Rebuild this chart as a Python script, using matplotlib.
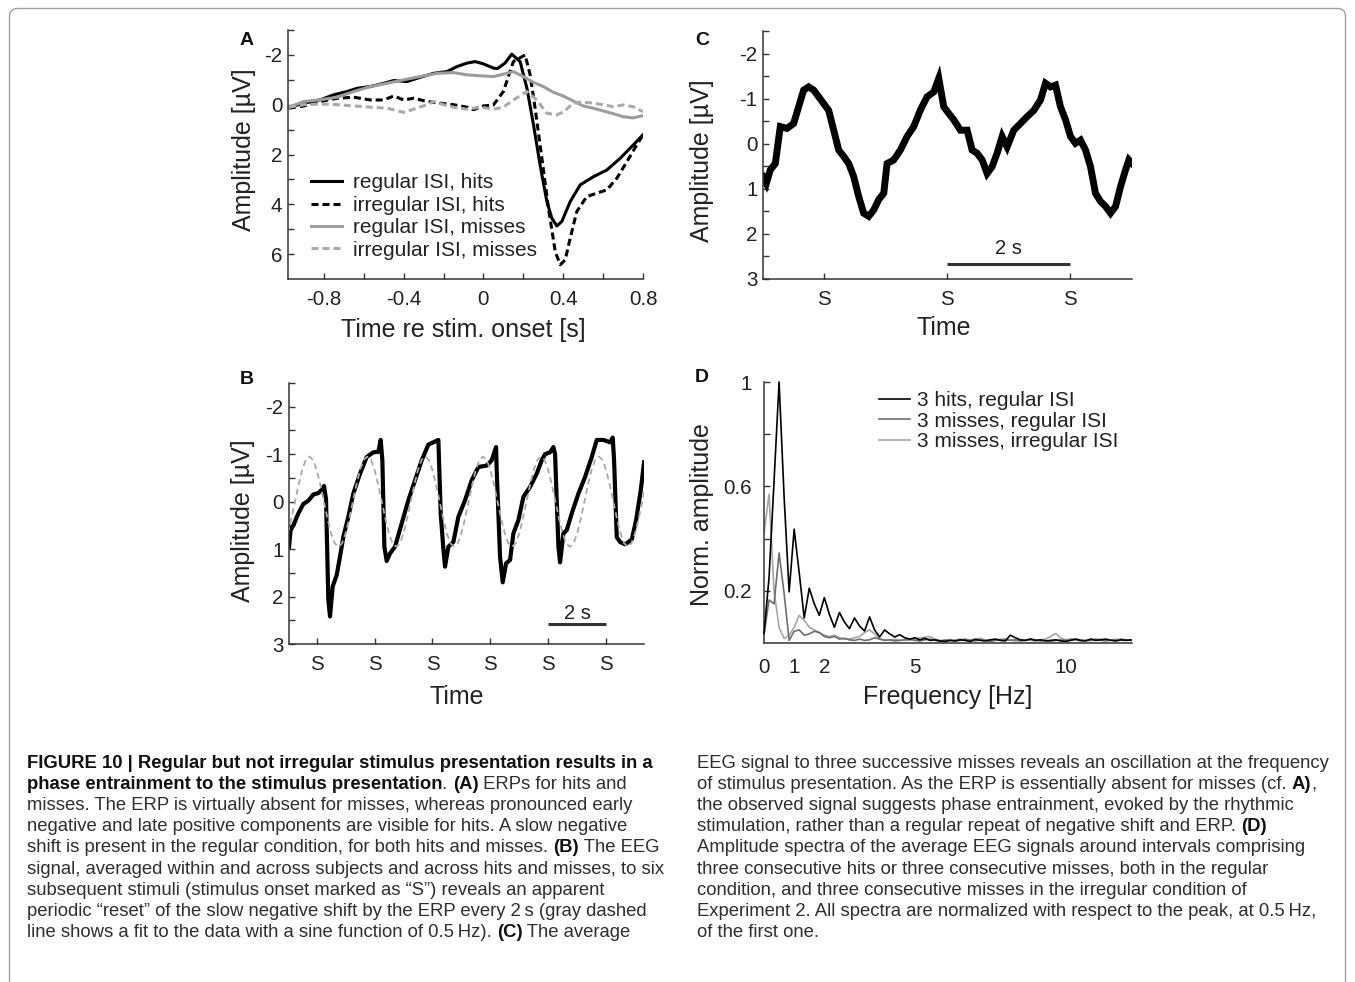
import numpy as np
import matplotlib
matplotlib.use("Agg")
import matplotlib.pyplot as plt
from matplotlib.patches import FancyBboxPatch
from matplotlib.transforms import IdentityTransform

# ---------------------------------------------------------------- data
# Panel A: ERPs (time in s, amplitude in uV; negative up)
a_reg_hits_t = [-0.975, -0.9, -0.817, -0.75, -0.683, -0.633, -0.567, -0.5, -0.45, -0.383,
                -0.317, -0.25, -0.183, -0.133, -0.083, -0.042, 0.0, 0.05, 0.07, 0.108,
                0.142, 0.184, 0.218, 0.251, 0.284, 0.318, 0.343, 0.368, 0.393, 0.435,
                0.485, 0.552, 0.619, 0.686, 0.752, 0.8]
a_reg_hits_v = [0.1, -0.06, -0.2, -0.4, -0.53, -0.66, -0.73, -0.86, -0.97, -0.93,
                -1.1, -1.26, -1.33, -1.53, -1.67, -1.73, -1.64, -1.47, -1.45, -1.67,
                -2.03, -1.73, -0.66, 0.81, 2.42, 3.89, 4.56, 4.87, 4.69, 3.89,
                3.22, 2.89, 2.62, 2.15, 1.61, 1.21]
a_irr_hits_t = [-0.975, -0.9, -0.817, -0.733, -0.65, -0.567, -0.5, -0.45, -0.4, -0.35,
                -0.283, -0.217, -0.15, -0.083, -0.05, 0.0, 0.05, 0.1, 0.15, 0.209,
                0.234, 0.259, 0.293, 0.326, 0.36, 0.385, 0.41, 0.435, 0.468, 0.518,
                0.569, 0.619, 0.669, 0.719, 0.769, 0.8]
a_irr_hits_v = [0.14, 0.05, -0.13, -0.26, -0.3, -0.19, -0.19, -0.35, -0.19, -0.26,
                -0.13, -0.06, 0.0, 0.1, 0.2, 0.05, 0.01, -0.53, -1.73, -2.0,
                -1.2, 0.14, 2.15, 4.16, 5.9, 6.43, 6.23, 5.36, 4.29, 3.69,
                3.55, 3.42, 2.95, 2.29, 1.61, 1.21]
a_reg_miss_t = [-0.975, -0.9, -0.817, -0.733, -0.65, -0.567, -0.483, -0.4, -0.317, -0.233,
                -0.15, -0.083, -0.017, 0.05, 0.117, 0.15, 0.2, 0.25, 0.3, 0.35,
                0.4, 0.45, 0.5, 0.55, 0.6, 0.65, 0.7, 0.75, 0.8]
a_reg_miss_v = [0.1, -0.13, -0.2, -0.3, -0.53, -0.73, -0.86, -1.0, -1.13, -1.26,
                -1.29, -1.2, -1.16, -1.13, -1.26, -1.33, -1.13, -0.9, -0.73, -0.5,
                -0.35, -0.15, 0.05, 0.14, 0.25, 0.36, 0.48, 0.53, 0.44]
a_irr_miss_t = [-0.975, -0.9, -0.817, -0.733, -0.65, -0.567, -0.483, -0.4, -0.35, -0.283,
                -0.25, -0.2, -0.15, -0.083, -0.017, 0.05, 0.1, 0.15, 0.217, 0.267,
                0.317, 0.367, 0.4, 0.45, 0.483, 0.533, 0.6, 0.65, 0.7, 0.75,
                0.8]
a_irr_miss_v = [0.1, 0.0, -0.03, 0.0, 0.05, 0.1, 0.14, 0.31, 0.18, 0.0,
                -0.13, 0.0, 0.1, 0.18, 0.1, 0.18, 0.1, -0.19, -0.53, -0.19,
                0.34, 0.41, 0.3, -0.06, -0.1, -0.08, 0.0, 0.08, 0.01, 0.08,
                0.28]
a_labels = ["regular ISI, hits", "irregular ISI, hits",
            "regular ISI, misses", "irregular ISI, misses"]
a_xticks = [-0.8, -0.4, 0, 0.4, 0.8]
a_xticklabels = ["-0.8", "-0.4", "0", "0.4", "0.8"]
a_yticks = [-2, 0, 2, 4, 6]
a_yticklabels = ["-2", "0", "2", "4", "6"]

# Panel B: EEG to six stimuli (time in s from first stimulus)
b_t = [-0.956, -0.899, -0.806, -0.634, -0.461, -0.288, -0.115, 0.058, 0.173, 0.253,
       0.323, 0.403, 0.461, 0.553, 0.691, 0.806, 0.922, 1.094, 1.267, 1.498,
       1.728, 1.959, 2.131, 2.212, 2.270, 2.339, 2.419, 2.535, 2.707, 2.938,
       3.168, 3.399, 3.629, 3.859, 4.032, 4.205, 4.286, 4.378, 4.435, 4.551,
       4.724, 4.896, 5.127, 5.357, 5.588, 5.876, 6.048, 6.198, 6.221, 6.336,
       6.429, 6.544, 6.682, 6.797, 6.970, 7.143, 7.373, 7.604, 7.776, 7.892,
       8.065, 8.18, 8.237, 8.353, 8.41, 8.525, 8.641, 8.813, 9.044, 9.274,
       9.505, 9.677, 9.908, 10.138, 10.23, 10.276, 10.369, 10.484, 10.657, 10.887,
       11.037, 11.198, 11.313]
b_v = [0.95, 0.6, 0.5, 0.25, 0.05, -0.02, -0.15, -0.18, -0.25, -0.33,
       -0.05, 2.07, 2.42, 1.79, 1.55, 1.16, 0.74, 0.32, -0.17, -0.59,
       -0.94, -1.04, -1.05, -1.3, -0.87, 0.95, 1.25, 1.09, 0.95, 0.46,
       -0.03, -0.45, -0.87, -1.2, -1.25, -1.3, 0.25, 1.0, 1.37, 0.95,
       0.85, 0.32, -0.03, -0.45, -0.73, -0.76, -0.87, -1.15, -0.66, 1.16,
       1.7, 1.3, 1.23, 0.67, 0.39, -0.1, -0.31, -0.59, -0.87, -1.0,
       -1.04, -1.15, -1.0, 0.95, 1.28, 0.67, 0.6, 0.25, -0.17, -0.52,
       -0.94, -1.3, -1.3, -1.25, -1.35, -0.87, 0.75, 0.85, 0.9, 0.8,
       0.39, -0.24, -0.83]
b_fit_v = [0.67, 0.36, 0.0, -0.36, -0.67, -0.88,
           -0.95, -0.88, -0.67, -0.36, 0.0, 0.36, 0.67, 0.88, 0.95, 0.88, 0.67, 0.36, 0.0, -0.36, -0.67, -0.88,
           -0.95, -0.88, -0.67, -0.36, 0.0, 0.36, 0.67, 0.88, 0.95, 0.88, 0.67, 0.36, 0.0, -0.36, -0.67, -0.88,
           -0.95, -0.88, -0.67, -0.36, 0.0, 0.36, 0.67, 0.88, 0.95, 0.88, 0.67, 0.36, 0.0, -0.36, -0.67, -0.88,
           -0.95, -0.88, -0.67, -0.36, 0.0, 0.36, 0.67, 0.88, 0.95, 0.88, 0.67, 0.36, 0.0, -0.36, -0.67, -0.88,
           -0.95, -0.88, -0.67, -0.36, 0.0, 0.36, 0.67, 0.88, 0.95, 0.88, 0.67, 0.36, 0.0, -0.36, -0.67, -0.88,
           -0.95, -0.88, -0.67, -0.36, 0.0, 0.36, 0.67, 0.88, 0.95, 0.88, 0.67, 0.36, 0.0, -0.36, -0.67]
b_fit_t = np.arange(len(b_fit_v)) * 0.125 - 1.0
b_stimuli = [0, 2, 4, 6, 8, 10]

# Panel C: EEG to three successive misses
c_t = [-0.986, -0.932, -0.867, -0.786, -0.705, -0.596, -0.488, -0.407, -0.325, -0.244,
       -0.163, -0.081, 0.0, 0.081, 0.163, 0.244, 0.325, 0.407, 0.488, 0.569,
       0.650, 0.732, 0.813, 0.894, 0.976, 1.030, 1.138, 1.247, 1.355, 1.463,
       1.572, 1.680, 1.789, 1.870, 1.951, 2.033, 2.114, 2.222, 2.331, 2.412,
       2.493, 2.575, 2.656, 2.737, 2.818, 2.9, 2.981, 3.089, 3.198, 3.306,
       3.415, 3.523, 3.604, 3.686, 3.767, 3.848, 3.930, 4.011, 4.092, 4.173,
       4.255, 4.336, 4.417, 4.499, 4.580, 4.661, 4.743, 4.824, 4.905, 4.959,
       5.014]
c_v = [0.73, 0.88, 0.58, 0.44, -0.38, -0.34, -0.45, -0.82, -1.19, -1.26,
       -1.19, -1.04, -0.89, -0.74, -0.3, 0.14, 0.28, 0.44, 0.73, 1.17,
       1.54, 1.61, 1.47, 1.24, 1.1, 0.44, 0.36, 0.14, -0.16, -0.38,
       -0.75, -1.04, -1.15, -1.45, -0.82, -0.67, -0.53, -0.3, -0.3, 0.14,
       0.21, 0.36, 0.66, 0.51, 0.21, -0.16, 0.07, -0.3, -0.45, -0.6,
       -0.74, -0.97, -1.34, -1.26, -1.3, -0.82, -0.53, -0.16, -0.01, -0.08,
       0.14, 0.51, 1.1, 1.28, 1.39, 1.54, 1.39, 0.95, 0.58, 0.36,
       0.44]
c_stimuli = [0, 2, 4]
bc_yticks = [-2, -1, 0, 1, 2, 3]
bc_yticklabels = ["-2", "-1", "0", "1", "2", "3"]

# Panel D: normalized amplitude spectra, bins of 1/6 Hz
d_hits_reg = [0.036, 0.25, 0.62, 1.0, 0.56, 0.196, 0.436, 0.27, 0.096, 0.21,
              0.15, 0.106, 0.174, 0.11, 0.06, 0.117, 0.08, 0.055, 0.096, 0.065,
              0.046, 0.1, 0.05, 0.023, 0.05, 0.035, 0.023, 0.032, 0.02, 0.015,
              0.02, 0.012, 0.018, 0.01, 0.012, 0.008, 0.006, 0.01, 0.008, 0.012,
              0.01, 0.006, 0.014, 0.01, 0.008, 0.012, 0.015, 0.01, 0.008, 0.03,
              0.02, 0.012, 0.01, 0.015, 0.01, 0.012, 0.008, 0.01, 0.012, 0.008,
              0.006, 0.01, 0.015, 0.01, 0.008, 0.015, 0.01, 0.012, 0.015, 0.01,
              0.008, 0.012, 0.01, 0.012]
d_miss_reg = [0.03, 0.165, 0.15, 0.345, 0.19, 0.01, 0.045, 0.05, 0.03, 0.035,
              0.045, 0.04, 0.025, 0.02, 0.025, 0.015, 0.018, 0.012, 0.01, 0.015,
              0.01, 0.012, 0.02, 0.015, 0.01, 0.012, 0.008, 0.01, 0.012, 0.015,
              0.01, 0.008, 0.012, 0.015, 0.01, 0.006, 0.01, 0.012, 0.008, 0.01,
              0.015, 0.01, 0.008, 0.012, 0.01, 0.006, 0.01, 0.012, 0.015, 0.01,
              0.012, 0.008, 0.01, 0.015, 0.012, 0.008, 0.01, 0.006, 0.01, 0.012,
              0.01, 0.015, 0.012, 0.008, 0.01, 0.012, 0.015, 0.01, 0.008, 0.012,
              0.01, 0.015, 0.012, 0.01]
d_miss_irr = [0.42, 0.57, 0.2, 0.06, 0.017, 0.03, 0.06, 0.106, 0.087, 0.06,
              0.05, 0.04, 0.03, 0.025, 0.03, 0.02, 0.015, 0.015, 0.02, 0.025,
              0.04, 0.05, 0.035, 0.015, 0.012, 0.01, 0.015, 0.01, 0.012, 0.01,
              0.015, 0.02, 0.022, 0.025, 0.015, 0.01, 0.012, 0.008, 0.012, 0.015,
              0.01, 0.012, 0.015, 0.018, 0.012, 0.01, 0.012, 0.015, 0.01, 0.012,
              0.008, 0.01, 0.012, 0.01, 0.008, 0.012, 0.015, 0.025, 0.036, 0.02,
              0.012, 0.01, 0.015, 0.012, 0.01, 0.008, 0.012, 0.015, 0.01, 0.012,
              0.015, 0.01, 0.012, 0.01]
d_freq = np.arange(len(d_hits_reg)) / 6.0
d_labels = ["3 hits, regular ISI", "3 misses, regular ISI", "3 misses, irregular ISI"]
d_xticks = [0, 1, 2, 5, 10]
d_yticks = [0.2, 0.4, 0.6, 0.8, 1.0]
d_yticklabels = ["0.2", "", "0.6", "", "1"]

# ---------------------------------------------------------------- figure
W, H = 1355, 982
plt.rcParams["font.family"] = ["Liberation Sans", "DejaVu Sans"]
plt.rcParams["axes.unicode_minus"] = False
TXT = "#222222"
AX = "#333333"
TICK_FS = 14.8

fig = plt.figure(figsize=(W / 100, H / 100), dpi=100)


def rect(x0, y0, x1, y1):
    return [x0 / W, 1 - y1 / H, (x1 - x0) / W, (y1 - y0) / H]


def style(ax, xpad=8, ypad=4):
    for s in ["top", "right"]:
        ax.spines[s].set_visible(False)
    for s in ["left", "bottom"]:
        ax.spines[s].set_linewidth(1.1)
        ax.spines[s].set_color(AX)
    ax.tick_params(which="both", direction="in", length=4, width=1.0, color=AX,
                   labelsize=TICK_FS, labelcolor=TXT)
    ax.tick_params(axis="y", which="both", pad=ypad)
    ax.tick_params(axis="x", which="both", pad=xpad)
    ax.patch.set_alpha(0)


def labels(ax, xl, yl, xc, yc):
    ax.set_xlabel(xl, fontsize=18, color=TXT, va="center")
    ax.set_ylabel(yl, fontsize=18, color=TXT, va="center")
    ax.xaxis.set_label_coords(*xc)
    ax.yaxis.set_label_coords(*yc)


def letter(x, y, s):
    fig.text(x / W, 1 - y / H, s, fontsize=14, fontweight="bold", color="#111111",
             ha="center", va="center")


# ---- Panel A
axA = fig.add_axes(rect(288, 30, 643, 279))
style(axA)
axA.plot(a_reg_hits_t, a_reg_hits_v, color="black", lw=2.2, label=a_labels[0])
axA.plot(a_irr_hits_t, a_irr_hits_v, color="black", lw=2.2, dashes=(2.3, 1.3), label=a_labels[1])
axA.plot(a_reg_miss_t, a_reg_miss_v, color="#9c9c9c", lw=2.2, label=a_labels[2])
axA.plot(a_irr_miss_t, a_irr_miss_v, color="#aaaaaa", lw=2.2, dashes=(2.3, 1.3), label=a_labels[3])
axA.set_xlim(-0.98, 0.8)
axA.set_ylim(7, -3)
axA.set_xticks(a_xticks)
axA.set_xticklabels(a_xticklabels)
axA.set_xticks([-0.6, -0.2, 0.2, 0.6], minor=True)
axA.set_yticks(a_yticks)
axA.set_yticklabels(a_yticklabels)
axA.set_yticks([-3, -1, 1, 3, 5], minor=True)
labels(axA, "Time re stim. onset [s]", "Amplitude [µV]", (0.493, -0.205), (-0.124, 0.52))
legA = axA.legend(loc="upper left", bbox_to_anchor=(311 / W, 1 - 173.5 / H),
                  bbox_transform=fig.transFigure, frameon=False, borderpad=0,
                  borderaxespad=0, handlelength=1.5, handletextpad=0.53,
                  labelspacing=0.16, fontsize=15)
for t in legA.get_texts():
    t.set_color(TXT)
letter(247, 41, "A")

# ---- Panel C
axC = fig.add_axes(rect(763, 31, 1132, 279))
style(axC)
axC.plot(c_t, c_v, color="black", lw=5.0, solid_joinstyle="miter")
axC.set_xlim(-0.986, 5.01)
axC.set_ylim(3, -2.5)
axC.set_xticks(c_stimuli)
axC.set_xticklabels(["S"] * len(c_stimuli))
axC.set_yticks(bc_yticks)
axC.set_yticklabels(bc_yticklabels)
axC.set_yticks([-2.5, -1.5, -0.5, 0.5, 1.5, 2.5], minor=True)
axC.plot([2, 4], [2.67, 2.67], color=AX, lw=2.2, solid_capstyle="butt", clip_on=False)
axC.text(3, 2.33, "2 s", ha="center", va="center", fontsize=14.5, color=TXT)
labels(axC, "Time", "Amplitude [µV]", (0.49, -0.196), (-0.164, 0.477))
letter(702, 41, "C")

# ---- Panel B
axB = fig.add_axes(rect(289, 383, 644, 644))
style(axB)
axB.plot(b_t, b_v, color="black", lw=3.0)
axB.plot(b_fit_t, b_fit_v, color="#a8a8a8", lw=1.3, dashes=(3.3, 2.2), zorder=3)
axB.set_xlim(-0.956, 11.31)
axB.set_ylim(3, -2.5)
axB.set_xticks(b_stimuli)
axB.set_xticklabels(["S"] * len(b_stimuli))
axB.set_yticks(bc_yticks)
axB.set_yticklabels(bc_yticklabels)
axB.set_yticks([-2.5, -1.5, -0.5, 0.5, 1.5, 2.5], minor=True)
axB.plot([8, 10], [2.58, 2.58], color=AX, lw=2.2, solid_capstyle="butt", clip_on=False)
axB.text(9, 2.35, "2 s", ha="center", va="center", fontsize=14.5, color=TXT)
labels(axB, "Time", "Amplitude [µV]", (0.472, -0.202), (-0.13, 0.472))
letter(247, 379, "B")

# ---- Panel D
axD = fig.add_axes(rect(764, 382, 1132, 643))
style(axD, xpad=11, ypad=9)
axD.plot(d_freq, d_hits_reg, color="black", lw=1.2, label=d_labels[0], clip_on=False, zorder=4)
axD.plot(d_freq, d_miss_reg, color="#6e6e6e", lw=1.2, label=d_labels[1], zorder=3)
axD.plot(d_freq, d_miss_irr, color="#a6a6a6", lw=1.2, label=d_labels[2], zorder=2)
axD.set_xlim(0, 12.2)
axD.set_ylim(0, 1.0)
axD.set_xticks(d_xticks)
axD.set_xticklabels([str(v) for v in d_xticks])
axD.tick_params(axis="x", length=0)
axD.set_yticks(d_yticks)
axD.set_yticklabels(d_yticklabels)
labels(axD, "Frequency [Hz]", "Norm. amplitude", (0.499, -0.207), (-0.168, 0.494))
legD = axD.legend(loc="upper left", bbox_to_anchor=(879 / W, 1 - 391 / H),
                  bbox_transform=fig.transFigure, frameon=False, borderpad=0,
                  borderaxespad=0, handlelength=1.5, handletextpad=0.34,
                  labelspacing=0.08, fontsize=15)
for t in legD.get_texts():
    t.set_color(TXT)
letter(702, 378, "D")

# ---------------------------------------------------------------- caption
renderer = fig.canvas.get_renderer()
CAP_FAMILY = ["Liberation Sans", "DejaVu Sans"]


def seg_width(s, size, weight):
    t = fig.text(0, 0, "|" + s + "|", fontsize=size, fontweight=weight, family=CAP_FAMILY)
    w1 = t.get_window_extent(renderer).width
    t.set_text("||")
    w2 = t.get_window_extent(renderer).width
    t.remove()
    return w1 - w2


left_lines = [
    [("FIGURE 10 | Regular but not irregular stimulus presentation results in a", True)],
    [("phase entrainment to the stimulus presentation", True), (". ", False), ("(A)", True),
     (" ERPs for hits and", False)],
    [("misses. The ERP is virtually absent for misses, whereas pronounced early", False)],
    [("negative and late positive components are visible for hits. A slow negative", False)],
    [("shift is present in the regular condition, for both hits and misses. ", False), ("(B)", True),
     (" The EEG", False)],
    [("signal, averaged within and across subjects and across hits and misses, to six", False)],
    [("subsequent stimuli (stimulus onset marked as \u201cS\u201d) reveals an apparent", False)],
    [("periodic \u201creset\u201d of the slow negative shift by the ERP every 2\u2009s (gray dashed", False)],
    [("line shows a fit to the data with a sine function of 0.5\u2009Hz). ", False), ("(C)", True),
     (" The average", False)],
]
right_lines = [
    [("EEG signal to three successive misses reveals an oscillation at the frequency", False)],
    [("of stimulus presentation. As the ERP is essentially absent for misses (cf. ", False), ("A)", True),
     (",", False)],
    [("the observed signal suggests phase entrainment, evoked by the rhythmic", False)],
    [("stimulation, rather than a regular repeat of negative shift and ERP. ", False), ("(D)", True)],
    [("Amplitude spectra of the average EEG signals around intervals comprising", False)],
    [("three consecutive hits or three consecutive misses, both in the regular", False)],
    [("condition, and three consecutive misses in the irregular condition of", False)],
    [("Experiment 2. All spectra are normalized with respect to the peak, at 0.5\u2009Hz,", False)],
    [("of the first one.", False)],
]

base = 12.0
cap_size = base * 627.0 / seg_width(left_lines[0][0][0], base, "bold")


def draw_lines(lines, x0, y0, dy):
    for i, segs in enumerate(lines):
        x = x0
        yb = y0 + i * dy
        for s, bold in segs:
            fig.text(x / W, 1 - yb / H, s, fontsize=cap_size,
                     fontweight="bold" if bold else "normal", family=CAP_FAMILY,
                     color="#111111" if bold else "#2e2e2e", ha="left", va="baseline")
            x += seg_width(s, cap_size, "bold" if bold else "normal")


draw_lines(left_lines, 27, 768, 21.1)
draw_lines(right_lines, 697, 768, 21.1)

# ---------------------------------------------------------------- frame (open at the bottom)
frame = FancyBboxPatch((9.5, -20.0), 1336, H - 8.5 + 20.0, boxstyle="round,pad=0,rounding_size=8",
                       transform=IdentityTransform(), facecolor="none",
                       edgecolor="#a0a0a0", lw=1.0)
fig.add_artist(frame)

fig.savefig("out.png", dpi=100)
